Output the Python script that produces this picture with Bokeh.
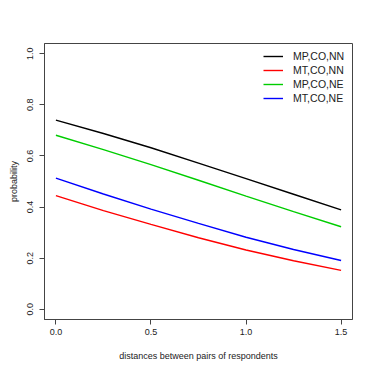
from bokeh.plotting import figure
from bokeh.models import Range1d, FixedTicker, Legend, LegendItem
from bokeh.embed import file_html
from bokeh.resources import INLINE

# data
dist = [0.0, 0.25, 0.5, 0.75, 1.0, 1.25, 1.5]
mp_co_nn = [0.740, 0.688, 0.632, 0.572, 0.511, 0.450, 0.389]
mt_co_nn = [0.445, 0.386, 0.332, 0.280, 0.232, 0.190, 0.152]
mp_co_ne = [0.681, 0.625, 0.566, 0.505, 0.443, 0.382, 0.323]
mt_co_ne = [0.513, 0.451, 0.392, 0.336, 0.282, 0.234, 0.191]

series_names = ["MP,CO,NN", "MT,CO,NN", "MP,CO,NE", "MT,CO,NE"]
series_values = [mp_co_nn, mt_co_nn, mp_co_ne, mt_co_ne]
series_colors = ["#000000", "#FF0000", "#00CD00", "#0000FF"]

x_ticks = [0.0, 0.5, 1.0, 1.5]
x_tick_labels = ["0.0", "0.5", "1.0", "1.5"]
y_ticks = [0.0, 0.2, 0.4, 0.6, 0.8, 1.0]
y_tick_labels = ["0.0", "0.2", "0.4", "0.6", "0.8", "1.0"]

FONT = "Liberation Sans"
TXT = "#222222"
EDGE = "#444444"

p = figure(width=374, height=374, output_backend="svg", toolbar_location=None,
           x_range=Range1d(-0.06, 1.56), y_range=Range1d(-0.04, 1.04),
           min_border_left=44, min_border_right=22, min_border_top=43, min_border_bottom=55)

p.xgrid.visible = False
p.ygrid.visible = False
p.outline_line_color = EDGE
p.outline_line_width = 1
p.background_fill_color = "white"
p.border_fill_color = "white"

p.xaxis.ticker = FixedTicker(ticks=x_ticks)
p.yaxis.ticker = FixedTicker(ticks=y_ticks)
p.xaxis.major_label_overrides = {t: l for t, l in zip(x_ticks, x_tick_labels)}
p.yaxis.major_label_overrides = {t: l for t, l in zip(y_ticks, y_tick_labels)}
p.yaxis.major_label_orientation = "vertical"

for ax in (p.xaxis[0], p.yaxis[0]):
    ax.axis_line_color = EDGE
    ax.major_tick_line_color = EDGE
    ax.major_tick_out = 5
    ax.major_tick_in = 0
    ax.minor_tick_line_color = None
    ax.major_label_text_font = FONT
    ax.major_label_text_font_size = "9px"
    ax.major_label_text_color = TXT
    ax.axis_label_text_font = FONT
    ax.axis_label_text_font_size = "9px"
    ax.axis_label_text_font_style = "normal"
    ax.axis_label_text_color = TXT

p.xaxis.axis_label = "distances between pairs of respondents"
p.yaxis.axis_label = "probability"
p.xaxis.major_label_standoff = 4
p.xaxis.axis_label_standoff = 13
p.yaxis.major_label_standoff = 6
p.yaxis.axis_label_standoff = 6

items = []
for name, vals, col in zip(series_names, series_values, series_colors):
    r = p.line(dist, vals, line_color=col, line_width=1.4)
    items.append(LegendItem(label=name, renderers=[r]))

legend = Legend(items=items, location=(219, 214), padding=0, margin=0, spacing=0,
                label_height=14, glyph_height=14, glyph_width=20, label_standoff=10,
                label_text_font=FONT, label_text_font_size="10.5px", label_text_color=TXT,
                border_line_alpha=0, background_fill_alpha=0)
p.add_layout(legend, "center")

open("out.html", "w").write(file_html(p, INLINE))
